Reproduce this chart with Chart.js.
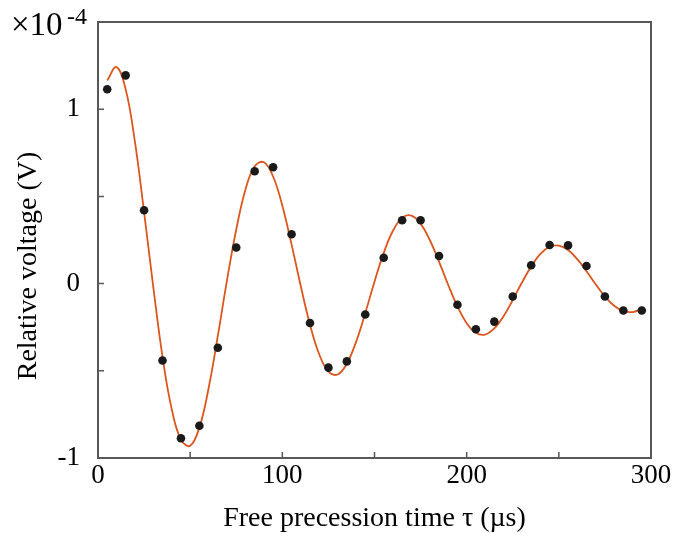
<!DOCTYPE html>
<html>
<head>
<meta charset="utf-8">
<script src="https://cdn.jsdelivr.net/npm/chart.js@4.4.1/dist/chart.umd.min.js"></script>
<style>
  html, body { margin: 0; padding: 0; background: #fff; }
  #wrap { width: 696px; height: 533px; }
</style>
</head>
<body>
<div id="wrap"><canvas id="chart_fid" width="696" height="533"></canvas></div>
<script>
// measured points (tau in us, voltage in units of 1e-4 V)
var tau = [5, 15, 25, 35, 45, 55, 65, 75, 85, 95,
           105, 115, 125, 135, 145, 155, 165, 175, 185, 195,
           205, 215, 225, 235, 245, 255, 265, 275, 285, 295];
var voltage = [1.114, 1.194, 0.421, -0.441, -0.887, -0.815, -0.368, 0.207, 0.644, 0.667,
               0.283, -0.226, -0.482, -0.446, -0.177, 0.148, 0.363, 0.363, 0.158, -0.121,
               -0.262, -0.218, -0.074, 0.105, 0.221, 0.219, 0.101, -0.074, -0.154, -0.154];

// fitted curve
var fitTau = [5, 10, 15, 20, 25, 30, 35, 40, 45, 50, 55, 60, 65, 70, 75, 80, 85, 90,
              95, 100, 105, 110, 115, 120, 125, 130, 135, 140, 145, 150, 155, 160, 165, 170,
              175, 180, 185, 190, 195, 200, 205, 210, 215, 220, 225, 230, 235, 240, 245, 250,
              255, 260, 265, 270, 275, 280, 285, 290, 295];
var fitVoltage = [1.165, 1.242, 1.115, 0.815, 0.410, -0.020, -0.420, -0.720, -0.895, -0.930, -0.825, -0.600, -0.300, 0.020, 0.310, 0.540, 0.673, 0.696,
                  0.614, 0.447, 0.225, -0.014, -0.235, -0.405, -0.504, -0.521, -0.459, -0.334, -0.169, 0.011, 0.176, 0.303, 0.377, 0.390,
                  0.344, 0.250, 0.126, -0.008, -0.131, -0.227, -0.282, -0.292, -0.257, -0.187, -0.094, 0.006, 0.098, 0.170, 0.211, 0.218,
                  0.193, 0.140, 0.071, -0.004, -0.074, -0.127, -0.158, -0.163, -0.146];

var xTicksLabelled = [0, 100, 200, 300];
var yTicksLabelled = [-1, 0, 1];

var serif = "'Liberation Serif', 'Times New Roman', serif";
var frameColor = '#585858';

function pts(xs, ys) {
    return xs.map(function(x, i) { return { x: x, y: ys[i] }; });
}

// box, inward ticks, y title and the x10^-4 multiplier
var framePlugin = {
    id: 'frame',
    afterDraw: function(chart) {
        var ctx = chart.ctx;
        var a = chart.chartArea;
        var xs = chart.scales.x, ys = chart.scales.y;
        ctx.save();
        ctx.strokeStyle = frameColor;
        ctx.lineWidth = 2;
        ctx.strokeRect(a.left, a.top, a.right - a.left, a.bottom - a.top);
        ctx.lineWidth = 1.5;
        ctx.beginPath();
        xs.ticks.forEach(function(t) {
            var px = xs.getPixelForValue(t.value);
            ctx.moveTo(px, a.bottom);
            ctx.lineTo(px, a.bottom - 6);
        });
        ys.ticks.forEach(function(t) {
            var py = ys.getPixelForValue(t.value);
            ctx.moveTo(a.left, py);
            ctx.lineTo(a.left + 6, py);
        });
        ctx.stroke();

        ctx.fillStyle = '#000';
        ctx.font = '28px ' + serif;
        ctx.textAlign = 'center';
        ctx.textBaseline = 'alphabetic';
        ctx.translate(36, (a.top + a.bottom) / 2 + 26);
        ctx.rotate(-Math.PI / 2);
        ctx.fillText('Relative voltage (V)', 0, 0);
        ctx.restore();

        ctx.save();
        ctx.fillStyle = '#000';
        ctx.textAlign = 'left';
        ctx.textBaseline = 'alphabetic';
        ctx.font = '33px ' + serif;
        ctx.fillText('\u00d710', 11, 35);
        ctx.font = '24px ' + serif;
        ctx.fillText('-4', 67, 24);
        ctx.restore();
    }
};

var canvas = document.getElementById('chart_fid').getContext('2d');
window.fid = new Chart(canvas, {
    type: 'scatter',
    data: {
        datasets: [{
                label: 'data',
                data: pts(tau, voltage),
                backgroundColor: '#1a1a1a',
                borderColor: '#1a1a1a',
                pointRadius: 4.3,
                pointBorderWidth: 0,
                showLine: false,
                order: 0
            }, {
                label: 'fit',
                data: pts(fitTau, fitVoltage),
                showLine: true,
                borderColor: '#DD561E',
                borderWidth: 1.8,
                pointRadius: 0,
                tension: 0.4,
                fill: false,
                order: 1
            }]
    },
    options: {
        responsive: false,
        animation: false,
        layout: { autoPadding: false, padding: { left: 0, right: 45, top: 22, bottom: 0 } },
        plugins: {
            legend: { display: false },
            tooltip: { enabled: false }
        },
        scales: {
            x: {
                type: 'linear',
                min: 0,
                max: 300,
                grid: { display: false, drawTicks: false },
                border: { display: false },
                afterFit: function(scale) {
                    scale.height = 75;
                    scale.paddingLeft = 0;
                    scale.paddingRight = 0;
                },
                ticks: {
                    stepSize: 50,
                    padding: 2,
                    color: '#000',
                    font: { family: serif, size: 27 },
                    maxRotation: 0,
                    callback: function(v) { return xTicksLabelled.indexOf(v) >= 0 ? String(v) : ''; }
                },
                title: {
                    display: true,
                    text: 'Free precession time \u03c4 (\u00b5s)',
                    color: '#000',
                    font: { family: serif, size: 28, lineHeight: 1 },
                    padding: { top: 0, bottom: 0 }
                }
            },
            y: {
                min: -1,
                max: 1.5,
                grid: { display: false, drawTicks: false },
                border: { display: false },
                afterFit: function(scale) {
                    scale.width = 98;
                    scale.paddingTop = 0;
                    scale.paddingBottom = 0;
                },
                ticks: {
                    stepSize: 0.5,
                    padding: 18,
                    color: '#000',
                    font: { family: serif, size: 27 },
                    callback: function(v) { return yTicksLabelled.indexOf(v) >= 0 ? String(v) : ''; }
                }
            }
        }
    },
    plugins: [framePlugin]
});
</script>
</body>
</html>
